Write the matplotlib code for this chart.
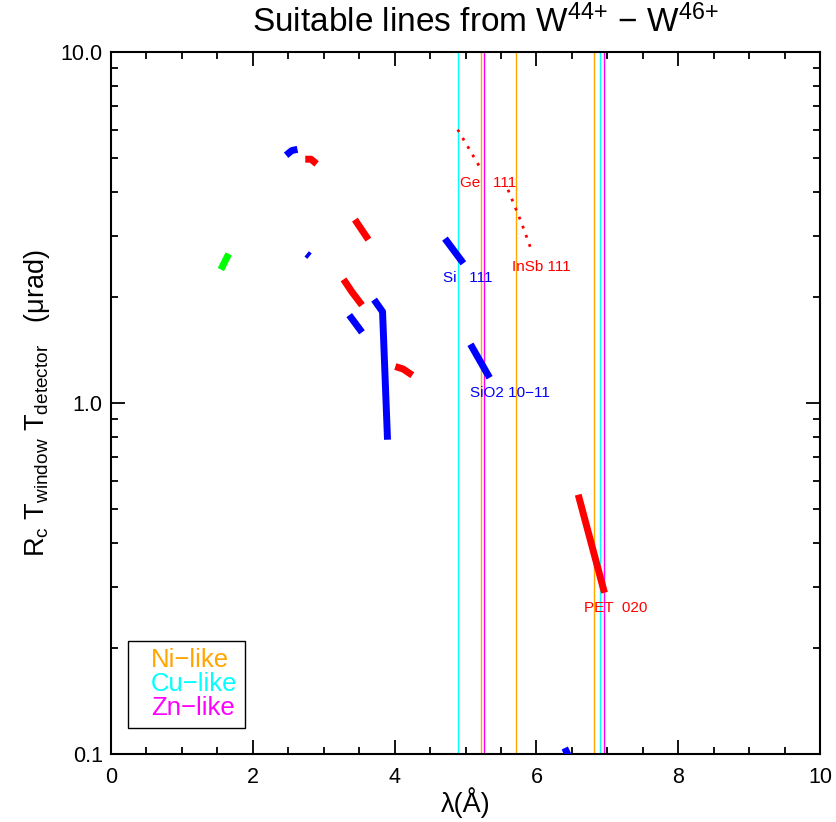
import numpy as np
import matplotlib
matplotlib.use("Agg")
import matplotlib.pyplot as plt
from matplotlib.lines import Line2D
from matplotlib.ticker import FixedLocator, FixedFormatter, MultipleLocator, LogLocator, NullFormatter

plt.rcParams['font.family'] = ['Liberation Sans', 'DejaVu Sans']
plt.rcParams['mathtext.default'] = 'regular'

# unlabeled crystal curves (wavelength in A, Rc*Twin*Tdet in urad)
free_x = [
    [1.55, 1.66],
    [2.47, 2.55, 2.63],
    [2.74, 2.82, 2.90],
    [3.44, 3.63],
    [2.76, 2.80],
    [3.28, 3.40, 3.54],
    [3.36, 3.54],
    [3.71, 3.83, 3.90],
    [4.01, 4.12, 4.25],
    [6.40, 6.47],
]
free_y = [
    [2.40, 2.66],
    [5.08, 5.24, 5.28],
    [4.95, 4.95, 4.80],
    [3.33, 2.92],
    [2.66, 2.62],
    [2.25, 2.07, 1.90],
    [1.78, 1.59],
    [1.97, 1.82, 0.786],
    [1.27, 1.25, 1.20],
    [0.104, 0.097],
]
free_col = ['#00ff00', 'blue', 'red', 'red', 'blue', 'red', 'blue', 'blue', 'red', 'blue']

# labeled crystals
lab_names = ['Ge   111', 'InSb 111', 'Si   111', 'SiO2 10\u221211', 'PET  020']
lab_x = [[4.89, 5.05, 5.21], [5.60, 5.78, 5.94], [4.71, 4.97], [5.07, 5.34], [6.59, 6.96]]
lab_y = [[6.01, 5.30, 4.67], [4.05, 3.30, 2.69], [2.94, 2.50], [1.47, 1.18], [0.548, 0.288]]
lab_col = ['red', 'red', 'blue', 'blue', 'red']
lab_dotted = [True, True, False, False, False]

# ion line wavelengths
ni_lines = [5.216, 5.71, 6.808]
cu_lines = [4.897, 6.893]
zn_lines = [5.265, 6.959]
ion_names = ['Ni\u2212like', 'Cu\u2212like', 'Zn\u2212like']
ion_col = ['orange', 'cyan', 'magenta']

fig = plt.figure(figsize=(8.36, 8.22), dpi=100)
ax = fig.add_axes([111/836, 1-754/822, 709/836, 702/822])

for lines, c in zip([ni_lines, cu_lines, zn_lines], ion_col):
    for w in lines:
        ax.axvline(w, color=c, lw=1.0, zorder=1)

for xs, ys, c in zip(free_x, free_y, free_col):
    ax.plot(xs, ys, color=c, lw=5, solid_capstyle='butt', zorder=3)

for name, xs, ys, c, dot in zip(lab_names, lab_x, lab_y, lab_col, lab_dotted):
    if dot:
        ax.plot(xs, ys, color=c, lw=2, ls=(0, (1, 2.5)), zorder=3)
    else:
        ax.plot(xs, ys, color=c, lw=5, solid_capstyle='butt', zorder=3)
    ax.annotate(name, (xs[-1], ys[-1]), xytext=(-20, -15), textcoords='offset pixels',
                ha='left', va='center', color=c, fontsize=11, zorder=4)

ax.set_yscale('log')
ax.set_xlim(0, 10)
ax.set_ylim(0.1, 10)

ax.xaxis.set_major_locator(MultipleLocator(2))
ax.xaxis.set_minor_locator(MultipleLocator(0.5))
ax.yaxis.set_major_locator(FixedLocator([0.1, 1.0, 10.0]))
ax.yaxis.set_major_formatter(FixedFormatter(['0.1', '1.0', '10.0']))
ax.yaxis.set_minor_locator(LogLocator(base=10, subs=np.arange(2, 10)))
ax.yaxis.set_minor_formatter(NullFormatter())
ax.tick_params(which='both', direction='in', top=True, right=True, width=1.3, labelsize=15.5)
ax.tick_params(which='major', length=10)
ax.tick_params(which='minor', length=5)
ax.tick_params(axis='x', pad=9)
ax.tick_params(axis='y', pad=6)
for s in ax.spines.values():
    s.set_linewidth(1.5)

fig.text(485/836, 1-22/822, 'Suitable lines from W$^{44{+}}$ \u2212 W$^{46{+}}$',
         fontsize=24, ha='center', va='center')
ax.set_xlabel('\u03bb(\u00c5)', fontsize=19.5, labelpad=0)
ax.set_ylabel('R$_c$ T$_{window}$ T$_{detector}$   (\u03bcrad)', fontsize=19.5, labelpad=6)

handles = [Line2D([], [], lw=0) for _ in ion_names]
leg = ax.legend(handles, ion_names, loc='lower left', bbox_to_anchor=(17/709, 26/702),
                handlelength=0.6, handletextpad=0.0, fontsize=18.5, labelcolor=ion_col,
                fancybox=False, framealpha=1, edgecolor='black', borderpad=0.3,
                labelspacing=0.0, borderaxespad=0)
leg.get_frame().set_linewidth(1.0)

fig.savefig('out.png', dpi=100)
